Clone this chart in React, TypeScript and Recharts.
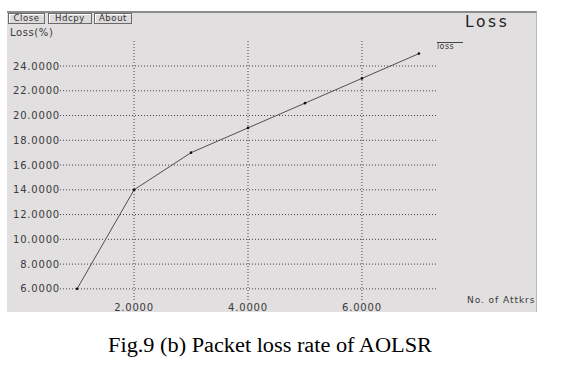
import { LineChart, Line, XAxis, YAxis, ReferenceLine } from "recharts";

// packet loss vs number of attackers (AOLSR)
const attackers = [1, 2, 3, 4, 5, 6, 7];
const lossValues = [6, 14, 17, 19, 21, 23, 25];
const xTicks = [2, 4, 6];
const yTicks = [6, 8, 10, 12, 14, 16, 18, 20, 22, 24];
const buttons = ["Close", "Hdcpy", "About"];

const data = attackers.map((n, i) => ({ n, loss: lossValues[i] }));

const font = "'DejaVu Sans', sans-serif";
const ink = "#3a3a3a";

export default function App() {
  return (
    <div
      style={{
        position: "absolute",
        left: 0,
        top: 0,
        width: 564,
        height: 369,
        background: "#fff",
        overflow: "hidden",
        fontFamily: font,
      }}
    >
      {/* gray window panel */}
      <div
        style={{
          position: "absolute",
          left: 7,
          top: 11,
          width: 529,
          height: 299,
          background: "#e1dfe0",
          borderTop: "2px solid #8c8c8c",
          borderRight: "1px solid #b8b8b8",
        }}
      />

      {buttons.map((b, i) => (
        <div
          key={b}
          style={{
            position: "absolute",
            left: [8, 48, 94][i],
            top: 13,
            width: [37, 44, 38][i],
            height: 11,
            boxSizing: "border-box",
            border: "1px solid #6a6a6a",
            boxShadow: "1px 1px 0 #fff inset",
            background: "#dcdadb",
            fontSize: 8.5,
            letterSpacing: 0.6,
            lineHeight: "9px",
            textAlign: "center",
            color: "#333",
          }}
        >
          {b}
        </div>
      ))}

      <div
        style={{
          position: "absolute",
          left: 10,
          top: 27,
          fontSize: 10,
          letterSpacing: 0.6,
          color: ink,
        }}
      >
        Loss(%)
      </div>

      <div
        style={{
          position: "absolute",
          left: 465,
          top: 13,
          fontSize: 15.5,
          letterSpacing: 2.6,
          color: "#222",
        }}
      >
        Loss
      </div>

      {/* legend entry */}
      <div
        style={{
          position: "absolute",
          left: 437,
          top: 42,
          width: 26,
          borderTop: "1px solid #444",
          fontSize: 8,
          letterSpacing: 0.4,
          lineHeight: "8px",
          color: ink,
        }}
      >
        loss
      </div>

      <div
        style={{
          position: "absolute",
          left: 467,
          top: 295,
          fontSize: 9,
          letterSpacing: 0.95,
          color: ink,
        }}
      >
        No. of Attkrs
      </div>

      <LineChart
        width={564}
        height={369}
        data={data}
        margin={{ top: 40, right: 128, bottom: 49, left: 0 }}
        style={{ position: "absolute", left: 0, top: 0 }}
      >
        <XAxis
          dataKey="n"
          type="number"
          domain={[0.7, 7.3]}
          ticks={xTicks}
          allowDataOverflow
          height={20}
          axisLine={false}
          tickLine={false}
          tickSize={0}
          tickMargin={4}
          tickFormatter={(v: number) => v.toFixed(4)}
          tick={{ fontSize: 10, fill: ink, letterSpacing: 0.8, fontFamily: font }}
        />
        <YAxis
          type="number"
          domain={[5.1, 26.1]}
          ticks={yTicks}
          allowDataOverflow
          width={60}
          axisLine={false}
          tickLine={false}
          tickSize={0}
          tickMargin={0}
          tickFormatter={(v: number) => v.toFixed(4)}
          tick={{ fontSize: 10, fill: ink, letterSpacing: 0.8, fontFamily: font }}
        />
        {yTicks.map((t) => (
          <ReferenceLine key={"y" + t} y={t} stroke="#444" strokeDasharray="1 2" />
        ))}
        {xTicks.map((t) => (
          <ReferenceLine key={"x" + t} x={t} stroke="#444" strokeDasharray="1 2" />
        ))}
        <Line
          type="linear"
          dataKey="loss"
          stroke="#505050"
          strokeWidth={1}
          dot={{ r: 1.3, fill: "#111", stroke: "none" }}
          isAnimationActive={false}
        />
      </LineChart>

      <div
        style={{
          position: "absolute",
          left: 0,
          width: 540,
          top: 334,
          textAlign: "center",
          fontFamily: "'Liberation Serif', 'Times New Roman', serif",
          fontSize: 20,
          color: "#000",
          transform: "scaleX(1.115)",
          transformOrigin: "270px 0",
        }}
      >
        Fig.9 (b) Packet loss rate of AOLSR
      </div>
    </div>
  );
}
